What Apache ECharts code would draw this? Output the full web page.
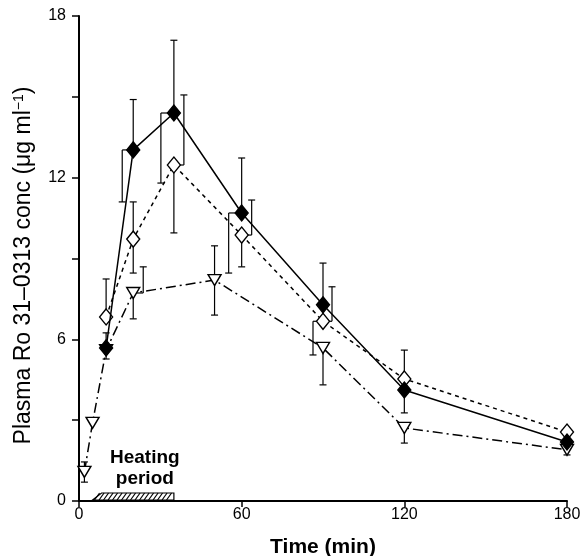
<!DOCTYPE html>
<html>
<head>
<meta charset="utf-8">
<script src="https://cdn.jsdelivr.net/npm/echarts@6/dist/echarts.min.js"></script>
<style>
html,body{margin:0;padding:0;background:#fff;}
#chart{width:582px;height:556px;}
</style>
</head>
<body>
<div id="chart"></div>
<script>
// ---- data ----
var xTicks = [0, 60, 120, 180];
var yTicks = [0, 6, 12, 18];

// filled diamonds (solid line)
var filledTimes = [10, 20, 35, 60, 90, 120, 180];
var filledVals  = [5.68, 13.03, 14.4, 10.69, 7.28, 4.12, 2.19];
var filledHi    = [6.24, 14.9, 17.1, 12.73, 8.83, null, null];
var filledLo    = [5.27, 11.1, 11.8, 8.46, null, 3.27, null];

// open diamonds (dashed line)
var openTimes = [10, 20, 35, 60, 90, 120, 180];
var openVals  = [6.83, 9.72, 12.47, 9.87, 6.67, 4.53, 2.56];
var openHi    = [8.24, 11.1, 15.07, 11.17, 7.95, 5.6, null];
var openLo    = [null, 8.46, 9.95, 8.69, 5.42, null, null];

// open inverted triangles (dash-dot line)
var triTimes = [2, 5, 10, 20, 50, 90, 120, 180];
var triVals  = [1.08, 2.9, 5.6, 7.72, 8.2, 5.68, 2.71, 1.9];
var triHi    = [1.45, null, null, 8.69, 9.47, null, null, null];
var triLo    = [0.7, null, null, 6.76, 6.9, 4.31, 2.15, 1.71];

// heating period (min)
var heatStart = 5;
var heatEnd = 35;

// ---- layout / style (pixel offsets of displaced error bars) ----
var filledOff = {1: {lo: -11}, 2: {lo: -13}, 3: {lo: -13}};
var openOff   = {2: {hi: 10}, 3: {hi: 10}, 4: {hi: 9, lo: -10}};
var triOff    = {3: {hi: 10}};

function errSeries(times, vals, lo, hi, offs) {
  return {
    type: 'custom',
    silent: true,
    z: 1,
    data: times.map(function (t, i) { return [t, vals[i], i]; }),
    encode: {x: 0, y: 1},
    renderItem: function (params, api) {
      var t = api.value(0), v = api.value(1), i = api.value(2);
      var p = api.coord([t, v]);
      var ch = [];
      var st = {stroke: '#000', lineWidth: 1.2};
      [['hi', hi[i]], ['lo', lo[i]]].forEach(function (e) {
        var b = e[1];
        if (b == null) return;
        var off = (offs[i] && offs[i][e[0]]) || 0;
        var q = api.coord([t, b]);
        var x = p[0] + off;
        ch.push({type: 'line', shape: {x1: x, y1: p[1], x2: x, y2: q[1]}, style: st});
        ch.push({type: 'line', shape: {x1: x - 3.5, y1: q[1], x2: x + 3.5, y2: q[1]}, style: st});
        if (off) ch.push({type: 'line', shape: {x1: p[0], y1: p[1], x2: x, y2: p[1]}, style: st});
      });
      return {type: 'group', children: ch};
    }
  };
}

function lineSeries(name, times, vals, symbol, fill, dash, z, rot, size) {
  return {
    name: name,
    type: 'line',
    z: z,
    data: times.map(function (t, i) { return [t, vals[i]]; }),
    symbol: symbol,
    symbolRotate: rot || 0,
    symbolSize: size,
    showAllSymbol: true,
    itemStyle: {color: fill, borderColor: '#000', borderWidth: 1.4},
    lineStyle: {color: '#000', width: 1.5, type: dash},
    emphasis: {disabled: true}
  };
}

var heatSeries = {
  type: 'custom',
  silent: true,
  z: 6,
  data: [[heatStart, heatEnd]],
  renderItem: function (params, api) {
    var a = api.coord([api.value(0), 0]);
    var b = api.coord([api.value(1), 0]);
    var yb = a[1] - 1, h = 7, slant = 9;
    var x0 = a[0], x1 = b[0];
    var ch = [{
      type: 'polygon',
      shape: {points: [[x0, yb], [x0 + slant, yb - h], [x1, yb - h], [x1, yb]]},
      style: {fill: '#fff', stroke: '#000', lineWidth: 1.2}
    }];
    for (var x = x0 + 2; x + 5 <= x1; x += 4.5) {
      ch.push({type: 'line', shape: {x1: x, y1: yb, x2: x + 5, y2: yb - h},
        style: {stroke: '#000', lineWidth: 1.2}});
    }
    return {type: 'group', children: ch};
  }
};

var chart = echarts.init(document.getElementById('chart'), null, {renderer: 'canvas'});
var font = 'Liberation Sans, Arial, Helvetica, sans-serif';
chart.setOption({
  animation: false,
  backgroundColor: '#fff',
  grid: {left: 79, right: 15, top: 16, bottom: 55, containLabel: false, outerBoundsMode: 'none'},
  xAxis: {
    type: 'value', min: 0, max: 180, interval: 60,
    name: 'Time (min)', nameLocation: 'middle', nameGap: 36,
    nameTextStyle: {fontFamily: font, fontSize: 21, fontWeight: 'bold', color: '#000'},
    axisLine: {lineStyle: {color: '#000', width: 2}},
    axisTick: {show: true, length: 6, lineStyle: {color: '#000', width: 1.5}},
    axisLabel: {fontFamily: font, fontSize: 16, color: '#000', margin: 6,
      formatter: function (v) { return xTicks.indexOf(v) >= 0 ? String(v) : ''; }},
    splitLine: {show: false}
  },
  yAxis: {
    type: 'value', min: 0, max: 18, interval: 3,
    name: '{a|Plasma Ro 31–0313 conc (μg ml}{s|−1}{a|)}',
    nameLocation: 'middle', nameGap: 44,
    nameTextStyle: {fontFamily: font, fontSize: 23, color: '#000', padding: [0, 14, 0, 0],
      rich: {a: {fontFamily: font, fontSize: 23, color: '#000'},
             s: {fontFamily: font, fontSize: 14, color: '#000', verticalAlign: 'top', padding: [0, 0, 9, 0]}}},
    axisLine: {show: true, lineStyle: {color: '#000', width: 2}},
    axisTick: {show: true, length: 7, lineStyle: {color: '#000', width: 1.5}},
    axisLabel: {fontFamily: font, fontSize: 16, color: '#000', margin: 13,
      formatter: function (v) { return yTicks.indexOf(v) >= 0 ? String(v) : ''; }},
    splitLine: {show: false}
  },
  graphic: [{
    type: 'text', left: 110, top: 447,
    style: {text: 'Heating\nperiod', font: 'bold 19px ' + font, fill: '#000',
      textAlign: 'center', lineHeight: 21}
  }],
  series: [
    errSeries(openTimes, openVals, openLo, openHi, openOff),
    errSeries(filledTimes, filledVals, filledLo, filledHi, filledOff),
    errSeries(triTimes, triVals, triLo, triHi, triOff),
    lineSeries('open', openTimes, openVals, 'diamond', '#fff', [4, 4], 3, 0, [13, 16]),
    lineSeries('tri', triTimes, triVals, 'triangle', '#fff', [10, 4, 2, 4], 4, 180, [13, 11]),
    lineSeries('filled', filledTimes, filledVals, 'diamond', '#000', 'solid', 5, 0, [13, 16]),
    heatSeries
  ]
});
</script>
</body>
</html>
